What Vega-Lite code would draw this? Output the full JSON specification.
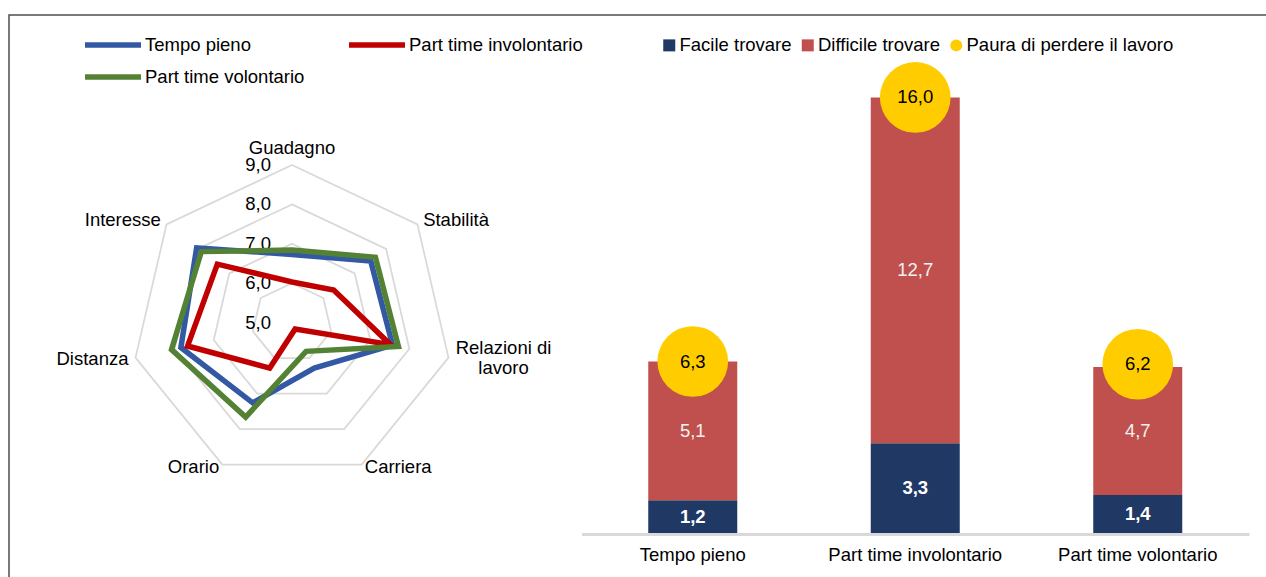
{
  "$schema": "https://vega.github.io/schema/vega-lite/v6.json",
  "width": 1259,
  "height": 564,
  "autosize": {"type": "none"},
  "padding": {"left": 9, "top": 15, "right": -2, "bottom": -2},
  "background": "white",
  "config": {
    "locale": {"number": {"decimal": ",", "thousands": ".", "grouping": [3], "currency": ["", " €"]}},
    "font": "Liberation Sans",
    "view": {"stroke": "#4d4d4d", "strokeWidth": 1.5},
    "legend": {"padding": 0}
  },
  "datasets": {
    "radar": [
      {"series": "Tempo pieno", "axis": "Guadagno", "value": 6.73},
      {"series": "Tempo pieno", "axis": "Stabilità", "value": 7.51},
      {"series": "Tempo pieno", "axis": "Relazioni di lavoro", "value": 7.57},
      {"series": "Tempo pieno", "axis": "Carriera", "value": 6.28},
      {"series": "Tempo pieno", "axis": "Orario", "value": 7.26},
      {"series": "Tempo pieno", "axis": "Distanza", "value": 7.84},
      {"series": "Tempo pieno", "axis": "Interesse", "value": 8.04},
      {"series": "Part time involontario", "axis": "Guadagno", "value": 6.03},
      {"series": "Part time involontario", "axis": "Stabilità", "value": 6.33},
      {"series": "Part time involontario", "axis": "Relazioni di lavoro", "value": 7.52},
      {"series": "Part time involontario", "axis": "Carriera", "value": 5.18},
      {"series": "Part time involontario", "axis": "Orario", "value": 6.28},
      {"series": "Part time involontario", "axis": "Distanza", "value": 7.67},
      {"series": "Part time involontario", "axis": "Interesse", "value": 7.38},
      {"series": "Part time volontario", "axis": "Guadagno", "value": 6.84},
      {"series": "Part time volontario", "axis": "Stabilità", "value": 7.66},
      {"series": "Part time volontario", "axis": "Relazioni di lavoro", "value": 7.72},
      {"series": "Part time volontario", "axis": "Carriera", "value": 5.81},
      {"series": "Part time volontario", "axis": "Orario", "value": 7.66},
      {"series": "Part time volontario", "axis": "Distanza", "value": 8.08},
      {"series": "Part time volontario", "axis": "Interesse", "value": 7.89}
    ],
    "axes": [
      {"axis": "Guadagno", "label": "Guadagno", "i": 0},
      {"axis": "Stabilità", "label": "Stabilità", "i": 1},
      {"axis": "Relazioni di lavoro", "label": "Relazioni di\nlavoro", "i": 2},
      {"axis": "Carriera", "label": "Carriera", "i": 3},
      {"axis": "Orario", "label": "Orario", "i": 4},
      {"axis": "Distanza", "label": "Distanza", "i": 5},
      {"axis": "Interesse", "label": "Interesse", "i": 6}
    ],
    "rings": [
      {"level": 5, "i": [0, 1, 2, 3, 4, 5, 6]},
      {"level": 6, "i": [0, 1, 2, 3, 4, 5, 6]},
      {"level": 7, "i": [0, 1, 2, 3, 4, 5, 6]},
      {"level": 8, "i": [0, 1, 2, 3, 4, 5, 6]},
      {"level": 9, "i": [0, 1, 2, 3, 4, 5, 6]}
    ],
    "bars": [
      {"group": "Tempo pieno", "cat": "Facile trovare", "value": 1.2},
      {"group": "Tempo pieno", "cat": "Difficile trovare", "value": 5.1},
      {"group": "Tempo pieno", "cat": "Paura di perdere il lavoro", "value": 6.3},
      {"group": "Part time involontario", "cat": "Facile trovare", "value": 3.3},
      {"group": "Part time involontario", "cat": "Difficile trovare", "value": 12.7},
      {"group": "Part time involontario", "cat": "Paura di perdere il lavoro", "value": 16.0},
      {"group": "Part time volontario", "cat": "Facile trovare", "value": 1.4},
      {"group": "Part time volontario", "cat": "Difficile trovare", "value": 4.7},
      {"group": "Part time volontario", "cat": "Paura di perdere il lavoro", "value": 6.2}
    ]
  },
  "layer": [
    {
      "layer": [
        {
          "data": {"name": "rings"},
          "transform": [
            {"filter": "datum.level > 5"},
            {"flatten": ["i"]},
            {"calculate": "(datum.level - 5) / 4 * sin(datum.i * 2 * PI / 7)", "as": "x"},
            {"calculate": "(datum.level - 5) / 4 * cos(datum.i * 2 * PI / 7)", "as": "y"}
          ],
          "mark": {"type": "line", "interpolate": "linear-closed", "stroke": "#d9d9d9", "strokeWidth": 1.75},
          "encoding": {
            "x": {"field": "x", "type": "quantitative", "scale": {"domain": [-1.7632, 6.081], "nice": false, "zero": false}, "axis": null},
            "y": {"field": "y", "type": "quantitative", "scale": {"domain": [-1.6269, 1.9518], "nice": false, "zero": false}, "axis": null},
            "detail": {"field": "level", "type": "nominal"},
            "order": {"field": "i", "type": "quantitative"}
          }
        },
        {
          "data": {"name": "rings"},
          "transform": [
            {"calculate": "0", "as": "x"},
            {"calculate": "(datum.level - 5) / 4", "as": "y"}
          ],
          "mark": {"type": "text", "align": "right", "baseline": "middle", "dx": -21, "fontSize": 18.5, "color": "#000000"},
          "encoding": {
            "x": {"field": "x", "type": "quantitative", "scale": {"domain": [-1.7632, 6.081], "nice": false, "zero": false}, "axis": null},
            "y": {"field": "y", "type": "quantitative", "scale": {"domain": [-1.6269, 1.9518], "nice": false, "zero": false}, "axis": null},
            "text": {"field": "level", "type": "quantitative", "format": ".1f"}
          }
        },
        {
          "data": {"name": "axes"},
          "transform": [
            {"filter": "datum.i == 0"},
            {"calculate": "1.045 * sin(datum.i * 2 * PI / 7)", "as": "x"},
            {"calculate": "1.045 * cos(datum.i * 2 * PI / 7)", "as": "y"}
          ],
          "mark": {"type": "text", "align": "center", "baseline": "bottom", "fontSize": 18.5, "color": "#000000"},
          "encoding": {
            "x": {"field": "x", "type": "quantitative", "scale": {"domain": [-1.7632, 6.081], "nice": false, "zero": false}, "axis": null},
            "y": {"field": "y", "type": "quantitative", "scale": {"domain": [-1.6269, 1.9518], "nice": false, "zero": false}, "axis": null},
            "text": {"field": "label"}
          }
        },
        {
          "data": {"name": "axes"},
          "transform": [
            {"filter": "datum.i == 1"},
            {"calculate": "1.045 * sin(datum.i * 2 * PI / 7)", "as": "x"},
            {"calculate": "1.045 * cos(datum.i * 2 * PI / 7)", "as": "y"}
          ],
          "mark": {"type": "text", "align": "left", "baseline": "middle", "fontSize": 18.5, "color": "#000000"},
          "encoding": {
            "x": {"field": "x", "type": "quantitative", "scale": {"domain": [-1.7632, 6.081], "nice": false, "zero": false}, "axis": null},
            "y": {"field": "y", "type": "quantitative", "scale": {"domain": [-1.6269, 1.9518], "nice": false, "zero": false}, "axis": null},
            "text": {"field": "label"}
          }
        },
        {
          "data": {"name": "axes"},
          "transform": [
            {"filter": "datum.i == 3"},
            {"calculate": "1.045 * sin(datum.i * 2 * PI / 7)", "as": "x"},
            {"calculate": "1.045 * cos(datum.i * 2 * PI / 7)", "as": "y"}
          ],
          "mark": {"type": "text", "align": "left", "baseline": "middle", "dy": -4, "fontSize": 18.5, "color": "#000000"},
          "encoding": {
            "x": {"field": "x", "type": "quantitative", "scale": {"domain": [-1.7632, 6.081], "nice": false, "zero": false}, "axis": null},
            "y": {"field": "y", "type": "quantitative", "scale": {"domain": [-1.6269, 1.9518], "nice": false, "zero": false}, "axis": null},
            "text": {"field": "label"}
          }
        },
        {
          "data": {"name": "axes"},
          "transform": [
            {"filter": "datum.i == 2"},
            {"calculate": "1.045 * sin(datum.i * 2 * PI / 7)", "as": "x"},
            {"calculate": "1.045 * cos(datum.i * 2 * PI / 7)", "as": "y"}
          ],
          "mark": {"type": "text", "align": "center", "baseline": "middle", "dx": 48, "dy": -11, "lineBreak": "\n", "lineHeight": 20, "fontSize": 18.5, "color": "#000000"},
          "encoding": {
            "x": {"field": "x", "type": "quantitative", "scale": {"domain": [-1.7632, 6.081], "nice": false, "zero": false}, "axis": null},
            "y": {"field": "y", "type": "quantitative", "scale": {"domain": [-1.6269, 1.9518], "nice": false, "zero": false}, "axis": null},
            "text": {"field": "label"}
          }
        },
        {
          "data": {"name": "axes"},
          "transform": [
            {"filter": "datum.i == 4"},
            {"calculate": "1.045 * sin(datum.i * 2 * PI / 7)", "as": "x"},
            {"calculate": "1.045 * cos(datum.i * 2 * PI / 7)", "as": "y"}
          ],
          "mark": {"type": "text", "align": "right", "baseline": "middle", "dy": -4, "fontSize": 18.5, "color": "#000000"},
          "encoding": {
            "x": {"field": "x", "type": "quantitative", "scale": {"domain": [-1.7632, 6.081], "nice": false, "zero": false}, "axis": null},
            "y": {"field": "y", "type": "quantitative", "scale": {"domain": [-1.6269, 1.9518], "nice": false, "zero": false}, "axis": null},
            "text": {"field": "label"}
          }
        },
        {
          "data": {"name": "axes"},
          "transform": [
            {"filter": "datum.i >= 5"},
            {"calculate": "1.045 * sin(datum.i * 2 * PI / 7)", "as": "x"},
            {"calculate": "1.045 * cos(datum.i * 2 * PI / 7)", "as": "y"}
          ],
          "mark": {"type": "text", "align": "right", "baseline": "middle", "fontSize": 18.5, "color": "#000000"},
          "encoding": {
            "x": {"field": "x", "type": "quantitative", "scale": {"domain": [-1.7632, 6.081], "nice": false, "zero": false}, "axis": null},
            "y": {"field": "y", "type": "quantitative", "scale": {"domain": [-1.6269, 1.9518], "nice": false, "zero": false}, "axis": null},
            "text": {"field": "label"}
          }
        },
        {
          "data": {"name": "radar"},
          "transform": [
            {"lookup": "axis", "from": {"data": {"name": "axes"}, "key": "axis", "fields": ["i"]}},
            {"calculate": "(datum.value - 5) / 4 * sin(datum.i * 2 * PI / 7)", "as": "x"},
            {"calculate": "(datum.value - 5) / 4 * cos(datum.i * 2 * PI / 7)", "as": "y"}
          ],
          "mark": {"type": "line", "interpolate": "linear-closed", "strokeWidth": 5.5, "strokeJoin": "miter"},
          "encoding": {
            "x": {"field": "x", "type": "quantitative", "scale": {"domain": [-1.7632, 6.081], "nice": false, "zero": false}, "axis": null},
            "y": {"field": "y", "type": "quantitative", "scale": {"domain": [-1.6269, 1.9518], "nice": false, "zero": false}, "axis": null},
            "order": {"field": "i", "type": "quantitative"},
            "stroke": {
              "field": "series", "type": "nominal",
              "scale": {"domain": ["Tempo pieno", "Part time involontario", "Part time volontario"], "range": ["#3358A4", "#C00000", "#548235"]},
              "legend": {"title": null, "orient": "none", "legendX": 87, "legendY": 13, "direction": "horizontal", "columns": 2, "symbolType": "M-2,0H2", "symbolSize": 784, "symbolStrokeWidth": 5.5, "symbolFillColor": "transparent", "labelFontSize": 18.5, "labelFont": "Liberation Sans", "labelColor": "#000000", "labelOffset": 15, "columnPadding": 33, "rowPadding": 4, "labelLimit": 400}
            }
          }
        }
      ]
    },
    {
      "layer": [
        {
          "data": {"name": "bars"},
          "transform": [
            {"filter": "datum.cat != 'Paura di perdere il lavoro'"},
            {"calculate": "datum.cat == 'Facile trovare' ? 0 : 1", "as": "ord"},
            {"stack": "value", "groupby": ["group"], "sort": [{"field": "ord", "order": "ascending"}], "as": ["v0", "v1"]}
          ],
          "mark": {"type": "bar"},
          "encoding": {
            "x": {"field": "group", "type": "nominal", "sort": ["Tempo pieno", "Part time involontario", "Part time volontario"], "scale": {"range": [572.5, 1240], "paddingInner": 0.6, "paddingOuter": 0.3},
              "axis": {"orient": "bottom", "offset": -45, "title": null, "ticks": false, "grid": false, "domainColor": "#d9d9d9", "domainWidth": 3, "labelFontSize": 18.5, "labelFont": "Liberation Sans", "labelColor": "#000000", "labelPadding": 11, "labelAngle": 0}},
            "y": {"field": "v1", "type": "quantitative", "scale": {"domain": [-1.69, 19.03], "nice": false, "zero": false}, "axis": null},
            "y2": {"field": "v0"},
            "fill": {
              "field": "cat", "type": "nominal",
              "scale": {"domain": ["Facile trovare", "Difficile trovare", "Paura di perdere il lavoro"], "range": ["#203864", "#C0504D", "#FFCC00"]},
              "legend": {"title": null, "orient": "none", "legendX": 651, "legendY": 21, "direction": "horizontal", "columns": 3, "symbolSize": 144, "labelFontSize": 18.5, "labelFont": "Liberation Sans", "labelColor": "#000000", "labelOffset": 1, "columnPadding": 6.5, "labelLimit": 400, "symbolStrokeWidth": 0}
            }
          }
        },
        {
          "data": {"name": "bars"},
          "transform": [
            {"filter": "datum.cat != 'Paura di perdere il lavoro'"},
            {"calculate": "datum.cat == 'Facile trovare' ? 0 : 1", "as": "ord"},
            {"stack": "value", "groupby": ["group"], "sort": [{"field": "ord", "order": "ascending"}], "as": ["v0", "v1"]},
            {"calculate": "(datum.v0 + datum.v1) / 2", "as": "vm"},
            {"filter": "datum.ord == 0"}
          ],
          "mark": {"type": "text", "color": "#ffffff", "fontWeight": "bold", "fontSize": 18.5, "baseline": "middle"},
          "encoding": {
            "x": {"field": "group", "type": "nominal", "sort": ["Tempo pieno", "Part time involontario", "Part time volontario"], "scale": {"range": [572.5, 1240], "paddingInner": 0.6, "paddingOuter": 0.3}},
            "y": {"field": "vm", "type": "quantitative", "scale": {"domain": [-1.69, 19.03], "nice": false, "zero": false}, "axis": null},
            "text": {"field": "value", "type": "quantitative", "format": ".1f"}
          }
        },
        {
          "data": {"name": "bars"},
          "transform": [
            {"filter": "datum.cat != 'Paura di perdere il lavoro'"},
            {"calculate": "datum.cat == 'Facile trovare' ? 0 : 1", "as": "ord"},
            {"stack": "value", "groupby": ["group"], "sort": [{"field": "ord", "order": "ascending"}], "as": ["v0", "v1"]},
            {"calculate": "(datum.v0 + datum.v1) / 2", "as": "vm"},
            {"filter": "datum.ord == 1"}
          ],
          "mark": {"type": "text", "color": "#f2f2f2", "fontSize": 18.5, "baseline": "middle"},
          "encoding": {
            "x": {"field": "group", "type": "nominal", "sort": ["Tempo pieno", "Part time involontario", "Part time volontario"], "scale": {"range": [572.5, 1240], "paddingInner": 0.6, "paddingOuter": 0.3}},
            "y": {"field": "vm", "type": "quantitative", "scale": {"domain": [-1.69, 19.03], "nice": false, "zero": false}, "axis": null},
            "text": {"field": "value", "type": "quantitative", "format": ".1f"}
          }
        },
        {
          "data": {"name": "bars"},
          "transform": [{"filter": "datum.cat == 'Paura di perdere il lavoro'"}],
          "mark": {"type": "point", "filled": true, "size": 5000, "opacity": 1, "strokeWidth": 0},
          "encoding": {
            "x": {"field": "group", "type": "nominal", "sort": ["Tempo pieno", "Part time involontario", "Part time volontario"], "scale": {"range": [572.5, 1240], "paddingInner": 0.6, "paddingOuter": 0.3}},
            "y": {"field": "value", "type": "quantitative", "scale": {"domain": [-1.69, 19.03], "nice": false, "zero": false}, "axis": null},
            "fill": {
              "field": "cat", "type": "nominal",
              "scale": {"domain": ["Facile trovare", "Difficile trovare", "Paura di perdere il lavoro"], "range": ["#203864", "#C0504D", "#FFCC00"]},
              "legend": {"title": null, "orient": "none", "legendX": 651, "legendY": 21, "direction": "horizontal", "columns": 3, "symbolSize": 144, "labelFontSize": 18.5, "labelFont": "Liberation Sans", "labelColor": "#000000", "labelOffset": 1, "columnPadding": 6.5, "labelLimit": 400, "symbolStrokeWidth": 0}
            },
            "shape": {
              "field": "cat", "type": "nominal",
              "scale": {"domain": ["Facile trovare", "Difficile trovare", "Paura di perdere il lavoro"], "range": ["square", "square", "circle"]},
              "legend": {"title": null, "orient": "none", "legendX": 651, "legendY": 21, "direction": "horizontal", "columns": 3, "symbolSize": 144, "labelFontSize": 18.5, "labelFont": "Liberation Sans", "labelColor": "#000000", "labelOffset": 1, "columnPadding": 6.5, "labelLimit": 400, "symbolStrokeWidth": 0}
            }
          }
        },
        {
          "data": {"name": "bars"},
          "transform": [{"filter": "datum.cat == 'Paura di perdere il lavoro'"}],
          "mark": {"type": "text", "color": "#000000", "fontSize": 18.5, "baseline": "middle"},
          "encoding": {
            "x": {"field": "group", "type": "nominal", "sort": ["Tempo pieno", "Part time involontario", "Part time volontario"], "scale": {"range": [572.5, 1240], "paddingInner": 0.6, "paddingOuter": 0.3}},
            "y": {"field": "value", "type": "quantitative", "scale": {"domain": [-1.69, 19.03], "nice": false, "zero": false}, "axis": null},
            "text": {"field": "value", "type": "quantitative", "format": ".1f"}
          }
        }
      ]
    }
  ],
  "resolve": {"scale": {"x": "independent", "y": "independent"}, "axis": {"x": "independent", "y": "independent"}}
}
